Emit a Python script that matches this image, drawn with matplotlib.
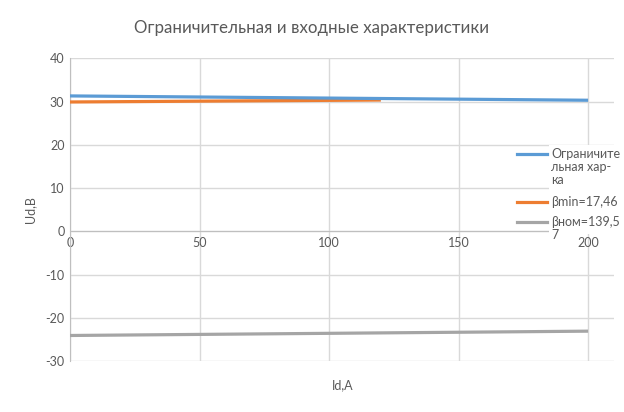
import matplotlib
matplotlib.use("Agg")
import matplotlib.pyplot as plt
from matplotlib.lines import Line2D
from matplotlib.patches import Rectangle

plt.rcParams['font.family'] = ['Lato', 'DejaVu Sans']
plt.rcParams['axes.unicode_minus'] = False

# Data
series_names = ["Ограничительная хар-ка", "βmin=17,46", "βном=139,57"]
legend_lines = [["Ограничите", "льная хар-", "ка"], ["βmin=17,46"], ["βном=139,5", "7"]]
x_limit = [0, 200]
y_limit = [31.3, 30.3]
x_min = [0, 120]
y_min = [29.9, 30.35]
x_nom = [0, 200]
y_nom = [-24.1, -23.1]
x_ticks = [0, 50, 100, 150, 200]
y_ticks = [-30, -20, -10, 0, 10, 20, 30, 40]
colors = ["#5B9BD5", "#ED7D31", "#A5A5A5"]

W, H = 624, 412
fig = plt.figure(figsize=(W / 100, H / 100), dpi=100)
ax = fig.add_axes([70 / W, (H - 361) / H, (614 - 70) / W, (361 - 58.3) / H])

lw = 2.3
ax.plot(x_min, y_min, color=colors[1], lw=lw, zorder=3, solid_capstyle='butt')
ax.plot(x_limit, y_limit, color=colors[0], lw=lw, zorder=4, solid_capstyle='butt')
ax.plot(x_nom, y_nom, color=colors[2], lw=lw, zorder=3, solid_capstyle='butt')

ax.set_xlim(0, 210)
ax.set_ylim(-30, 40)
ax.set_xticks(x_ticks)
ax.set_yticks(y_ticks)
ax.grid(True, color="#D9D9D9", lw=1.0, zorder=0)
ax.set_axisbelow(True)

for s in ['top', 'right']:
    ax.spines[s].set_visible(False)
ax.spines['bottom'].set_position(('data', 0))
ax.spines['bottom'].set_color("#BFBFBF")
ax.spines['left'].set_color("#BFBFBF")
ax.spines['bottom'].set_bounds(0, 200)
ax.tick_params(axis='both', length=0, colors="#595959", labelsize=9)
ax.tick_params(axis='y', pad=4)
ax.tick_params(axis='x', pad=4)

fig.text(312, H - 28, "Ограничительная и входные характеристики", transform=None,
         ha='center', va='center', fontsize=12.2, color="#595959")
fig.text(30, H - 210, "Ud,B", transform=None, rotation=90, ha='center', va='center',
         fontsize=9, color="#595959")
fig.text(343, H - 385, "Id,A", transform=None, ha='center', va='center',
         fontsize=9, color="#595959")

# legend
fig.patches.append(Rectangle((549 / W, (H - 234) / H), (W - 549) / W, (234 - 145) / H,
                             transform=fig.transFigure, facecolor='white',
                             edgecolor='none', zorder=5))
entry_y = [154.3, 202, 222]
for i, (lines, y) in enumerate(zip(legend_lines, entry_y)):
    fig.lines.append(Line2D([517 / W, 547 / W], [(H - y) / H, (H - y) / H],
                            transform=fig.transFigure, color=colors[i], lw=lw, zorder=6))
    for j, t in enumerate(lines):
        fig.text(551 / W, (H - (y + j * 12.7)) / H, t, ha='left', va='center',
                 fontsize=9, color="#595959", zorder=7)

fig.savefig("out.png", dpi=100)
